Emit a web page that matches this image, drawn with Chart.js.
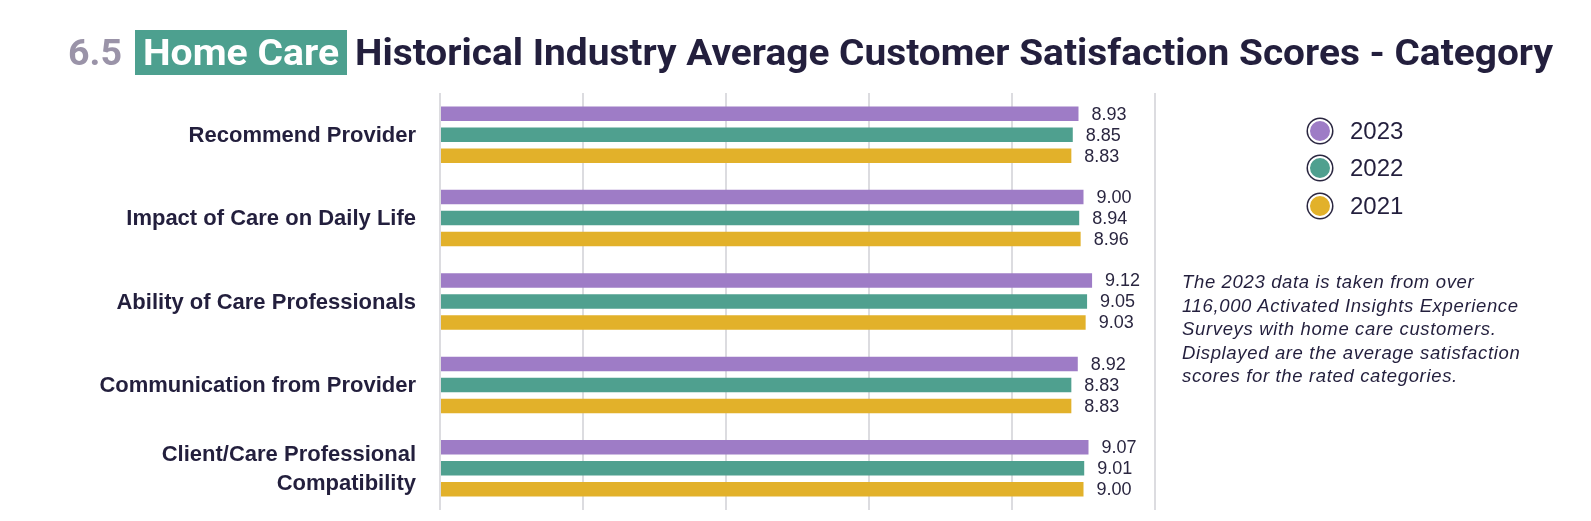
<!DOCTYPE html>
<html>
<head>
<meta charset="utf-8">
<script src="https://cdn.jsdelivr.net/npm/chart.js@4.4.1/dist/chart.umd.min.js"></script>
<style>
  html, body { margin: 0; padding: 0; background: #fff; }
  body { width: 1591px; height: 521px; position: relative; overflow: hidden; font-family: "Liberation Sans", Arial, sans-serif; color: #231f3d; }
  #chartWrap { position: absolute; left: 0; top: 0; width: 1591px; height: 521px; }
  .t { position: absolute; white-space: nowrap; font-family: Roboto, "Liberation Sans", sans-serif; font-weight: 700; font-size: 37px; line-height: 45px; top: 30px; transform-origin: left center; }
  #num { left: 68px; color: #9a93a8; }
  #box { left: 135px; width: 212px; height: 45px; background: #4da08f; }
  #boxText { left: 143px; color: #fff; }
  #rest { left: 355px; color: #231f3d; }
  #legend { position: absolute; left: 1308px; top: 112px; }
  .li { display: flex; align-items: center; height: 37.5px; font-size: 24px; color: #231f3d; }
  .dot { width: 20px; height: 20px; border-radius: 50%; border: 2px solid #fff; box-shadow: 0 0 0 1.5px #2a2640; margin-right: 18px; }
  #note { position: absolute; left: 1182px; top: 270px; font-style: italic; font-size: 18.5px; letter-spacing: 0.65px; line-height: 23.6px; color: #231f3d; }
</style>
</head>
<body>
<div id="chartWrap"><canvas id="barChart"></canvas></div>
<div class="t" id="num">6.5</div>
<div class="t" id="box"></div>
<div class="t" id="boxText">Home Care</div>
<div class="t" id="rest">Historical Industry Average Customer Satisfaction Scores - Category</div>
<div id="legend"></div>
<div id="note">The 2023 data is taken from over<br>116,000 Activated Insights Experience<br>Surveys with home care customers.<br>Displayed are the average satisfaction<br>scores for the rated categories.</div>
<script>
const CATEGORIES = [
  "Recommend Provider",
  "Impact of Care on Daily Life",
  "Ability of Care Professionals",
  "Communication from Provider",
  ["Client/Care Professional", "Compatibility"]
];
const YEARS = ["2023", "2022", "2021"];
const SCORES_2023 = [8.93, 9.00, 9.12, 8.92, 9.07];
const SCORES_2022 = [8.85, 8.94, 9.05, 8.83, 9.01];
const SCORES_2021 = [8.83, 8.96, 9.03, 8.83, 9.00];
const COLORS = ["#9e7cc6", "#4fa08f", "#e2b12a"];

// squeeze title pieces to the widths in the reference
function fitWidth(id, target) {
  const el = document.getElementById(id);
  const w = el.getBoundingClientRect().width;
  el.style.transform = `scaleX(${target / w})`;
}
fitWidth("rest", 1553 - 355);
fitWidth("boxText", 196);
fitWidth("num", 54);

// legend
const legendEl = document.getElementById("legend");
YEARS.forEach((y, i) => {
  const row = document.createElement("div");
  row.className = "li";
  row.innerHTML = `<span class="dot" style="background:${COLORS[i]}"></span>${y}`;
  legendEl.appendChild(row);
});

const valueLabels = {
  id: "valueLabels",
  afterDatasetsDraw(chart) {
    const ctx = chart.ctx;
    ctx.save();
    ctx.font = "18px 'Liberation Sans', Arial, sans-serif";
    ctx.fillStyle = "#2a2640";
    ctx.textAlign = "left";
    ctx.textBaseline = "middle";
    chart.data.datasets.forEach((ds, i) => {
      chart.getDatasetMeta(i).data.forEach((bar, j) => {
        ctx.fillText(ds.data[j].toFixed(2), bar.x + 13, bar.y + 1);
      });
    });
    ctx.restore();
  }
};

// category labels drawn by hand so the two-line label doesn't shrink the plot
const categoryLabels = {
  id: "categoryLabels",
  afterDraw(chart) {
    const ctx = chart.ctx;
    const y = chart.scales.y;
    const lh = 28.4;
    ctx.save();
    ctx.font = "bold 22px 'Liberation Sans', Arial, sans-serif";
    ctx.fillStyle = "#231f3d";
    ctx.textAlign = "right";
    ctx.textBaseline = "middle";
    chart.data.labels.forEach((lab, i) => {
      const lines = Array.isArray(lab) ? lab : [lab];
      const cy = y.getPixelForTick(i);
      lines.forEach((ln, k) => {
        ctx.fillText(ln, chart.chartArea.left - 24, cy + (k - (lines.length - 1) / 2) * lh + 1);
      });
    });
    ctx.restore();
  }
};

new Chart(document.getElementById("barChart"), {
  type: "bar",
  data: {
    labels: CATEGORIES,
    datasets: [
      { label: YEARS[0], data: SCORES_2023, backgroundColor: COLORS[0] },
      { label: YEARS[1], data: SCORES_2022, backgroundColor: COLORS[1] },
      { label: YEARS[2], data: SCORES_2021, backgroundColor: COLORS[2] }
    ]
  },
  options: {
    indexAxis: "y",
    responsive: true,
    maintainAspectRatio: false,
    animation: false,
    categoryPercentage: 0.755,
    barPercentage: 0.69,
    layout: { autoPadding: false, padding: { left: 0, right: 436, top: 93, bottom: 11 } },
    plugins: { legend: { display: false }, tooltip: { enabled: false } },
    scales: {
      x: {
        min: 0, max: 10,
        ticks: { display: false, stepSize: 2 },
        grid: { color: "#dcdce0", lineWidth: 2, drawTicks: false },
        border: { display: false },
        afterFit(s) { s.height = 0; }
      },
      y: {
        grid: { display: false },
        border: { display: false },
        ticks: { display: false },
        afterFit(s) { s.width = 440; }
      }
    }
  },
  plugins: [valueLabels, categoryLabels]
});
</script>
</body>
</html>
